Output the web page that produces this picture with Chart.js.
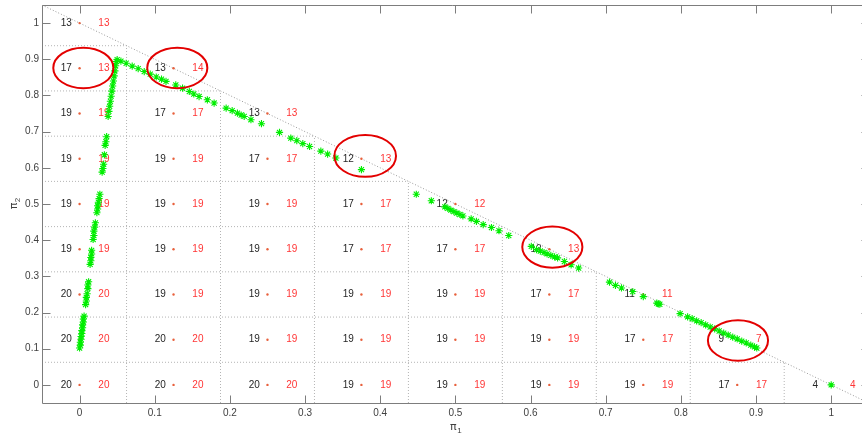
<!DOCTYPE html>
<html>
<head>
<meta charset="utf-8">
<script src="https://cdn.jsdelivr.net/npm/chart.js@4.4.0/dist/chart.umd.min.js"></script>
<style>
  html, body { margin: 0; padding: 0; background: #fff; }
</style>
</head>
<body>
<canvas id="policyChart" width="862" height="440"></canvas>
<script>
// belief grid: points at (i*step, j*step) with i + j <= 8
var gridStep = 0.125;

// counts per grid point, rows from pi2 = 0 (bottom) to pi2 = 1 (top)
var blackCounts = [
  [20, 20, 20, 19, 19, 19, 19, 17, 4],
  [20, 20, 19, 19, 19, 19, 17, 9],
  [20, 19, 19, 19, 19, 17, 11],
  [19, 19, 19, 17, 17, 12],
  [19, 19, 19, 17, 12],
  [19, 19, 17, 12],
  [19, 17, 13],
  [17, 13],
  [13]
];
var redCounts = [
  [20, 20, 20, 19, 19, 19, 19, 17, 4],
  [20, 20, 19, 19, 19, 19, 17, 7],
  [20, 19, 19, 19, 19, 17, 11],
  [19, 19, 19, 17, 17, 13],
  [19, 19, 19, 17, 12],
  [19, 19, 17, 13],
  [19, 17, 13],
  [13, 14],
  [13]
];

// belief trajectory (pi1, pi2)
var pathX = [
  0.000, 0.001, 0.001, 0.002, 0.002, 0.003, 0.003, 0.004, 0.004, 0.005, 0.005, 0.006,
  0.008, 0.009, 0.009, 0.010, 0.011, 0.011, 0.012,
  0.014, 0.015, 0.015, 0.016, 0.016,
  0.018, 0.019, 0.019, 0.020, 0.021,
  0.023, 0.024, 0.024, 0.025, 0.026, 0.027,
  0.030, 0.031, 0.032, 0.033, 0.034, 0.035, 0.036,
  0.038, 0.039, 0.040, 0.041, 0.042, 0.043, 0.044, 0.045, 0.046, 0.047, 0.048, 0.049, 0.050,
  0.055, 0.062, 0.070, 0.078, 0.086, 0.094, 0.102, 0.109, 0.115,
  0.128, 0.137, 0.146, 0.152, 0.159, 0.170, 0.179,
  0.195, 0.203, 0.210, 0.215, 0.219,
  0.228, 0.242, 0.266, 0.281, 0.289, 0.297, 0.306, 0.321, 0.330, 0.341,
  0.375,
  0.448, 0.468, 0.486, 0.490, 0.494, 0.498, 0.502, 0.506, 0.510, 0.521, 0.528, 0.537, 0.548, 0.558, 0.571,
  0.601, 0.608, 0.613, 0.618, 0.622, 0.627, 0.632, 0.636, 0.645, 0.654, 0.664,
  0.705, 0.713, 0.721, 0.736, 0.750, 0.768, 0.770, 0.772,
  0.799, 0.809, 0.815, 0.821, 0.827, 0.833, 0.839, 0.845, 0.851, 0.857, 0.863, 0.869, 0.875, 0.881, 0.887, 0.893, 0.898, 0.901,
  1.000
];
var pathY = [
  0.102, 0.110, 0.118, 0.126, 0.134, 0.142, 0.150, 0.158, 0.166, 0.174, 0.182, 0.190,
  0.222, 0.232, 0.242, 0.252, 0.266, 0.276, 0.285,
  0.333, 0.343, 0.352, 0.362, 0.372,
  0.402, 0.413, 0.425, 0.436, 0.448,
  0.476, 0.486, 0.495, 0.505, 0.515, 0.527,
  0.588, 0.598, 0.610, 0.636, 0.662, 0.672, 0.686,
  0.742, 0.756, 0.770, 0.784, 0.798, 0.812, 0.826, 0.840, 0.854, 0.868, 0.882, 0.894, 0.899,
  0.895, 0.889, 0.881, 0.874, 0.866, 0.859, 0.851, 0.845, 0.839,
  0.829, 0.820, 0.811, 0.804, 0.797, 0.788, 0.779,
  0.765, 0.758, 0.751, 0.746, 0.742,
  0.733, 0.722, 0.698, 0.682, 0.675, 0.667, 0.659, 0.646, 0.638, 0.627,
  0.595,
  0.527, 0.509, 0.492, 0.488, 0.483, 0.479, 0.475, 0.471, 0.467, 0.459, 0.452, 0.443, 0.435, 0.426, 0.413,
  0.383, 0.374, 0.370, 0.366, 0.362, 0.358, 0.354, 0.351, 0.341, 0.332, 0.323,
  0.284, 0.275, 0.268, 0.258, 0.244, 0.226, 0.224, 0.223,
  0.197, 0.188, 0.183, 0.177, 0.172, 0.166, 0.160, 0.155, 0.149, 0.143, 0.138, 0.132, 0.127, 0.121, 0.116, 0.110, 0.105, 0.102,
  0.000
];

var xTicks = [0, 0.1, 0.2, 0.3, 0.4, 0.5, 0.6, 0.7, 0.8, 0.9, 1];
var yTicks = [0, 0.1, 0.2, 0.3, 0.4, 0.5, 0.6, 0.7, 0.8, 0.9, 1];

// highlighted points (centre and half-axes in data units)
var marked = [
  { x: 0.005, y: 0.876, rx: 0.040, ry: 0.056 },
  { x: 0.130, y: 0.876, rx: 0.040, ry: 0.056 },
  { x: 0.380, y: 0.633, rx: 0.041, ry: 0.058 },
  { x: 0.629, y: 0.381, rx: 0.040, ry: 0.057 },
  { x: 0.876, y: 0.123, rx: 0.040, ry: 0.056 }
];

var xMin = -0.05, xEnd = 1.05, xView = 1.041;
var yMin = -0.05, yMax = 1.05;
var labelShift = 0.025;

// ---- datasets ----
var datasets = [];

var traj = [];
for (var k = 0; k < pathX.length; k++) traj.push({ x: pathX[k], y: pathY[k] });
datasets.push({
  type: 'scatter', data: traj, pointStyle: 'star', pointRadius: 3.6,
  borderColor: '#00ee00', backgroundColor: '#00ee00', pointBorderWidth: 1.1
});

var dots = [];
for (var j = 0; j < blackCounts.length; j++) {
  for (var i = 0; i < blackCounts[j].length; i++) {
    dots.push({ x: i * gridStep, y: j * gridStep });
  }
}
datasets.push({
  type: 'scatter', data: dots, pointStyle: 'circle', pointRadius: 1.2,
  backgroundColor: '#e8603c', borderWidth: 0
});

// simplex edge pi1 + pi2 = 1
datasets.push({
  type: 'line', data: [{ x: xMin, y: 1 - xMin }, { x: 1 - yMin, y: yMin }],
  borderColor: '#9a9a9a', borderWidth: 1, borderDash: [1, 2], pointRadius: 0, fill: false
});

// cell boundaries of the grid (staircase)
function seg(x0, y0, x1, y1) {
  datasets.push({
    type: 'line', data: [{ x: x0, y: y0 }, { x: x1, y: y1 }],
    borderColor: '#b4b4b4', borderWidth: 1, borderDash: [1, 2], pointRadius: 0, fill: false
  });
}
for (var r = 0; r < blackCounts.length - 1; r++) {
  var yb = (r + 0.5) * gridStep;
  seg(xMin, yb, (blackCounts[r + 1].length - 0.5) * gridStep, yb);
}
for (var c = 0; c < blackCounts[0].length - 1; c++) {
  var xb = (c + 0.5) * gridStep;
  var colTop = 0;
  for (var rr = 0; rr < blackCounts.length; rr++) if (blackCounts[rr].length > c + 1) colTop = rr;
  seg(xb, yMin, xb, (colTop + 0.5) * gridStep);
}

// ---- plugins ----
var cellLabels = {
  id: 'cellLabels',
  beforeDatasetsDraw: function (chart) {
    var ctx = chart.ctx, xs = chart.scales.x, ys = chart.scales.y;
    ctx.save();
    ctx.font = '10px "Liberation Sans", Arial, sans-serif';
    ctx.textAlign = 'left';
    ctx.textBaseline = 'middle';
    for (var j = 0; j < blackCounts.length; j++) {
      for (var i = 0; i < blackCounts[j].length; i++) {
        var py = ys.getPixelForValue(j * gridStep);
        ctx.fillStyle = '#262626';
        ctx.fillText(String(blackCounts[j][i]), xs.getPixelForValue(i * gridStep - labelShift), py);
        ctx.fillStyle = '#ff3535';
        ctx.fillText(String(redCounts[j][i]), xs.getPixelForValue(i * gridStep + labelShift), py);
      }
    }
    ctx.restore();
  }
};

var frame = {
  id: 'frame',
  afterDraw: function (chart) {
    var ctx = chart.ctx, xs = chart.scales.x, ys = chart.scales.y;
    var a = chart.chartArea;
    var L = Math.round(a.left) + 0.5, B = Math.round(a.bottom) + 0.5, T = Math.round(a.top) + 0.5;
    var R = Math.round(xs.getPixelForValue(xEnd)) + 0.5;
    var tick = 8;
    ctx.save();
    ctx.strokeStyle = '#7d7d7d';
    ctx.lineWidth = 1;
    ctx.beginPath();
    ctx.moveTo(L, T); ctx.lineTo(L, B); ctx.lineTo(R, B); ctx.lineTo(R, T); ctx.lineTo(L, T);
    xTicks.forEach(function (v) {
      var p = Math.round(xs.getPixelForValue(v)) + 0.5;
      ctx.moveTo(p, B); ctx.lineTo(p, B - tick);
      ctx.moveTo(p, T); ctx.lineTo(p, T + tick);
    });
    yTicks.forEach(function (v) {
      var p = Math.round(ys.getPixelForValue(v)) + 0.5;
      ctx.moveTo(L, p); ctx.lineTo(L + tick, p);
      ctx.moveTo(R, p); ctx.lineTo(R - tick, p);
    });
    ctx.stroke();

    // marked points
    ctx.strokeStyle = '#e30000';
    ctx.lineWidth = 2;
    marked.forEach(function (m) {
      var cx = xs.getPixelForValue(m.x), cy = ys.getPixelForValue(m.y);
      var rx = Math.abs(xs.getPixelForValue(m.x + m.rx) - cx);
      var ry = Math.abs(ys.getPixelForValue(m.y + m.ry) - cy);
      ctx.beginPath();
      ctx.ellipse(cx, cy, rx, ry, 0, 0, Math.PI * 2);
      ctx.stroke();
    });

    // axis titles
    ctx.fillStyle = '#404040';
    ctx.textBaseline = 'middle';
    ctx.textAlign = 'center';
    var tx = xs.getPixelForValue(0.5);
    ctx.font = '11px "DejaVu Sans", sans-serif';
    ctx.fillText('\u03c0', tx - 2, 427);
    ctx.font = '8px "Liberation Sans", Arial, sans-serif';
    ctx.fillText('1', tx + 4, 431);
    var ty = (a.top + a.bottom) / 2;
    ctx.translate(14, ty);
    ctx.rotate(-Math.PI / 2);
    ctx.font = '11px "DejaVu Sans", sans-serif';
    ctx.fillText('\u03c0', -2, 0);
    ctx.font = '8px "Liberation Sans", Arial, sans-serif';
    ctx.fillText('2', 4, 4);
    ctx.restore();
  }
};

var tickFont = { family: '"Liberation Sans", Arial, sans-serif', size: 10 };

var chart = new Chart(document.getElementById('policyChart'), {
  type: 'scatter',
  data: { datasets: datasets },
  options: {
    responsive: false,
    animation: false,
    events: [],
    layout: { autoPadding: false, padding: { top: 5, right: 0, left: 0, bottom: 0 } },
    plugins: { legend: { display: false }, tooltip: { enabled: false } },
    scales: {
      x: {
        type: 'linear', min: xMin, max: xView,
        grid: { display: false, drawTicks: false }, border: { display: false },
        ticks: { color: '#404040', font: tickFont, padding: 4, maxRotation: 0, autoSkip: false,
                 callback: function (v) { return String(v); } },
        afterBuildTicks: function (s) { s.ticks = xTicks.map(function (v) { return { value: v }; }); },
        afterFit: function (s) { s.height = 37; s.paddingLeft = 0; s.paddingRight = 0; }
      },
      y: {
        type: 'linear', min: yMin, max: yMax,
        grid: { display: false, drawTicks: false }, border: { display: false },
        ticks: { color: '#404040', font: tickFont, padding: 3, autoSkip: false,
                 callback: function (v) { return String(v); } },
        afterBuildTicks: function (s) { s.ticks = yTicks.map(function (v) { return { value: v }; }); },
        afterFit: function (s) { s.width = 42; s.paddingTop = 0; s.paddingBottom = 0; }
      }
    }
  },
  plugins: [cellLabels, frame]
});
</script>
</body>
</html>
